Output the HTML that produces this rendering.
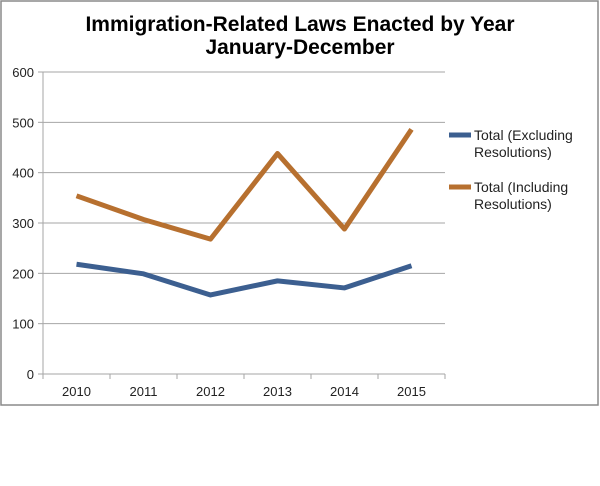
<!DOCTYPE html>
<html><head><meta charset="utf-8"><style>
html,body{margin:0;padding:0;background:#fff;}
svg{display:block;font-family:"Liberation Sans",Arial,sans-serif;}
</style></head><body>
<svg id="chart" width="600" height="486" viewBox="0 0 600 486" xmlns="http://www.w3.org/2000/svg">
<rect x="1" y="1" width="597" height="404" fill="#fff" stroke="#8a8a8a" stroke-width="1.5"/>
<text x="300" y="31" text-anchor="middle" font-size="21" font-weight="bold" fill="#000">Immigration-Related Laws Enacted by Year</text>
<text x="300" y="54" text-anchor="middle" font-size="21" font-weight="bold" fill="#000">January-December</text>
<g id="grid"></g><g id="axes"></g><g id="series"></g>
<g>
<line x1="449" y1="135" x2="471" y2="135" stroke="#3c5f90" stroke-width="5"/>
<text x="474" y="140" font-size="14" fill="#222"><tspan x="474">Total (Excluding</tspan><tspan x="474" dy="17">Resolutions)</tspan></text>
<line x1="449" y1="187" x2="471" y2="187" stroke="#b7702f" stroke-width="5"/>
<text x="474" y="192" font-size="14" fill="#222"><tspan x="474">Total (Including</tspan><tspan x="474" dy="17">Resolutions)</tspan></text>
</g>
</svg>
<script>
const categories = ["2010","2011","2012","2013","2014","2015"];
const excluding = [218,199,157,185,171,215];
const including = [354,307,268,438,288,486];
const yTicks = [0,100,200,300,400,500,600];
const NS="http://www.w3.org/2000/svg";
const L=43,R=445,T=72,B=374;
const x=i=>L+(R-L)/categories.length*(i+0.5);
const y=v=>B-(B-T)*v/600;
function mk(tag,attrs,parent){const e=document.createElementNS(NS,tag);for(const k in attrs)e.setAttribute(k,attrs[k]);parent.appendChild(e);return e;}
const grid=document.getElementById('grid'),axes=document.getElementById('axes'),series=document.getElementById('series');
yTicks.forEach(v=>{
  if(v>0){const g=mk('line',{x1:L,x2:R,y1:y(v),y2:y(v),stroke:'#a6a6a6','stroke-width':1},grid);
  
  }
  const tk=mk('line',{x1:L-5,x2:L,y1:y(v),y2:y(v),stroke:'#a6a6a6','stroke-width':1},axes);
  
  
  const t=mk('text',{x:L-9,y:y(v)+5,'text-anchor':'end','font-size':13,fill:'#222'},axes);t.textContent=v;
  
  
});
const ya=mk('line',{x1:L,x2:L,y1:T,y2:B,stroke:'#a6a6a6','stroke-width':1},axes);


const xa=mk('line',{x1:L,x2:R,y1:B,y2:B,stroke:'#a6a6a6','stroke-width':1},axes);


const step=(R-L)/categories.length;
for(let i=0;i<=categories.length;i++){
  const tk=mk('line',{x1:L+step*i,x2:L+step*i,y1:B,y2:B+5,stroke:'#a6a6a6','stroke-width':1},axes);
  
  
}
categories.forEach((c,i)=>{
  const t=mk('text',{x:x(i),y:B+22,'text-anchor':'middle','font-size':13,fill:'#222'},axes);t.textContent=c;
  
  
});
function line(vals,color,name){
  const p=mk('polyline',{points:vals.map((v,i)=>x(i)+','+y(v)).join(' '),fill:'none',stroke:color,'stroke-width':5,'stroke-linejoin':'round'},series);
  
  
}
line(excluding,'#3c5f90','series-excluding-resolutions');
line(including,'#b7702f','series-including-resolutions');
</script>
</body></html>
